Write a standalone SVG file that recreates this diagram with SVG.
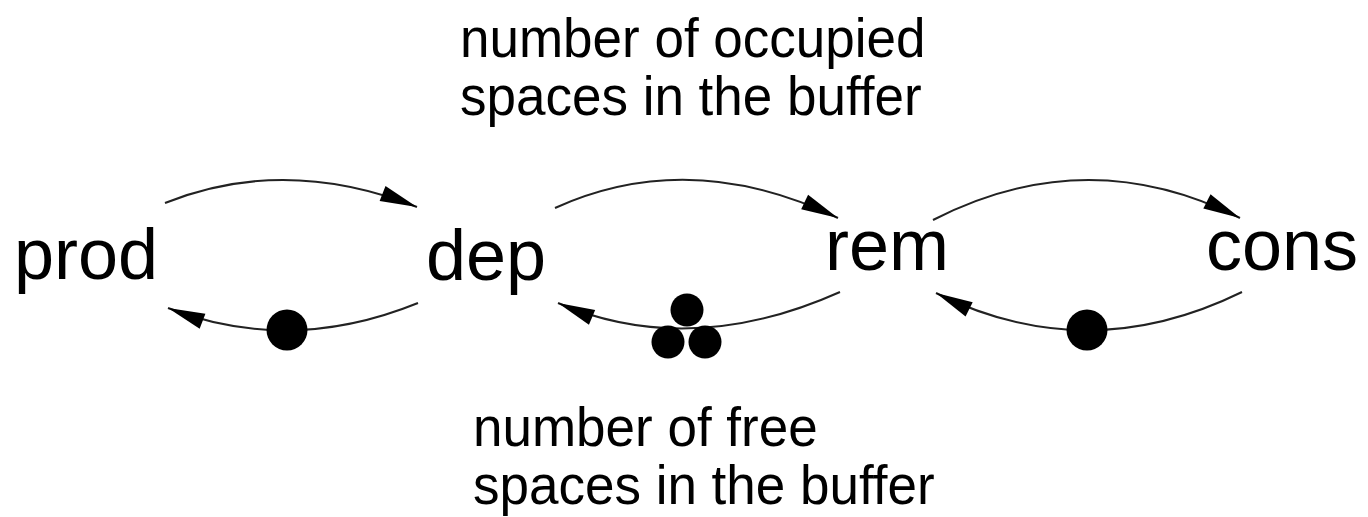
<svg xmlns="http://www.w3.org/2000/svg" width="1368" height="517" viewBox="0 0 1368 517">
  <defs>
    <style>
      .lbl { font-family: "Liberation Sans", Arial, sans-serif; fill: #000; }
      .node { font-size: 72px; }
      .note { font-size: 53px; }
      .arc { fill: none; stroke: #222; stroke-width: 2; marker-end: url(#head); }
      .tok { fill: #000; }
    </style>
    <marker id="head" markerUnits="userSpaceOnUse" markerWidth="42" markerHeight="20" viewBox="-40 -10 42 20" refX="0" refY="0" orient="auto">
      <path d="M0,0 L-37,-8 L-37,8 Z" fill="#000"/>
    </marker>
  </defs>
  <rect width="1368" height="517" fill="#fff"/>

  <!-- annotations (slightly tall lettering) -->
  <g id="note-occupied">
    <text class="lbl note" transform="translate(460,57) scale(1,1.06)">number of occupied</text>
    <text class="lbl note" transform="translate(460,115) scale(1,1.06)">spaces in the buffer</text>
  </g>
  <g id="note-free">
    <text class="lbl note" transform="translate(473,446) scale(1,1.06)">number of free</text>
    <text class="lbl note" transform="translate(473,504) scale(1,1.06)">spaces in the buffer</text>
  </g>

  <!-- places -->
  <g id="prod"><text class="lbl node" x="14" y="279">prod</text></g>
  <g id="dep"><text class="lbl node" x="426" y="280">dep</text></g>
  <g id="rem"><text class="lbl node" x="825" y="270">rem</text></g>
  <g id="cons"><text class="lbl node" x="1206" y="270">cons</text></g>

  <!-- connectors -->
  <g id="connectors">
    <path class="arc" d="M165,203 Q285,155 417,207"/>
    <path class="arc" d="M418,303 Q290,355 168,308"/>
    <path class="arc" d="M555,208 Q690,147 838,218"/>
    <path class="arc" d="M840,292 Q690,359 558,303"/>
    <path class="arc" d="M933,220 Q1087,141 1240,218"/>
    <path class="arc" d="M1242,292 Q1087,368 936,293"/>
  </g>

  <!-- tokens -->
  <g id="tokens">
    <circle class="tok" cx="287" cy="330" r="20.5"/>
    <circle class="tok" cx="687" cy="310" r="16.5"/>
    <circle class="tok" cx="668" cy="342" r="16.5"/>
    <circle class="tok" cx="705" cy="342" r="16.5"/>
    <circle class="tok" cx="1087" cy="330" r="20.5"/>
  </g>
</svg>
